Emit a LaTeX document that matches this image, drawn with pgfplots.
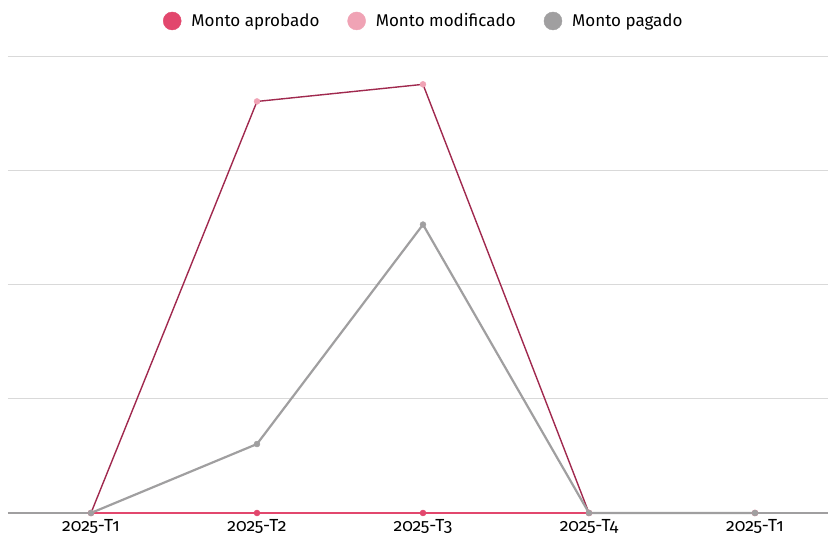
\documentclass[border=0pt]{standalone}
\usepackage{pgfplots}
\pgfplotsset{compat=1.18}
\usepackage{fontspec}
\setmainfont{Fira Sans}[Numbers=OldStyle]
\definecolor{aprob}{HTML}{E2476D}
\definecolor{modif}{HTML}{F0A3B5}
\definecolor{modline}{HTML}{A0294E}
\definecolor{pag}{HTML}{A09FA0}
\definecolor{gridc}{HTML}{D9D9D9}
\begin{document}
\begin{tikzpicture}
\path[use as bounding box] (-8pt,-24pt) rectangle (820pt,513pt);
\begin{axis}[
  at={(0,0)}, anchor=south west,
  scale only axis, width=820pt, height=456pt,
  xmin=-0.5, xmax=4.44, ymin=0, ymax=4,
  axis x line*=bottom, axis y line*=left,
  y axis line style={draw=none},
  x axis line style={draw=none},
  xtick={0,1,2,3,4},
  xticklabels={2025-T1,2025-T2,2025-T3,2025-T4,2025-T1},
  major tick length=0pt,
  xticklabel style={font=\fontsize{17.5}{19}\selectfont, yshift=-3pt},
  ytick={0,1,2,3,4}, yticklabels={},
  ymajorgrids, grid style={gridc, line width=1pt},
  clip=false,
  /pgf/number format/assume math mode=true,
  legend style={draw=none, at={(0.507,1.079)}, anchor=center,
    font=\fontsize{17}{19}\selectfont, legend columns=3,
    /tikz/every odd column/.append style={column sep=8pt},
    /tikz/every even column/.append style={column sep=26pt},
    inner sep=0pt},
  legend cell align=left,
]
\addlegendimage{legend image code/.code={\fill[aprob] (4pt,0pt) circle (9pt);}}
\addlegendentry{Monto aprobado}
\addlegendimage{legend image code/.code={\fill[modif] (4pt,0pt) circle (9pt);}}
\addlegendentry{Monto modificado}
\addlegendimage{legend image code/.code={\fill[pag] (4pt,0pt) circle (9pt);}}
\addlegendentry{Monto pagado}
\addplot[pag, line width=1.2pt, forget plot] coordinates {(-0.5,0) (4.44,0)};
\addplot[aprob, line width=2.6pt, mark=*, mark size=3pt, mark options={solid, draw=aprob, fill=aprob, line width=0.4pt}, forget plot]
  coordinates {(0,0) (1,0) (2,0) (3,0) (4,0)};
\addplot[modline, line width=1.4pt, mark=*, mark size=3pt, mark options={solid, draw=modif, fill=modif, line width=0.4pt}, forget plot]
  coordinates {(0,0) (1,3.61) (2,3.76) (3,0) (4,0)};
\addplot[pag, line width=2.2pt, mark=*, mark size=3pt, mark options={solid, draw=pag, fill=pag, line width=0.4pt}, forget plot]
  coordinates {(0,0) (1,0.605) (2,2.53) (3,0) (4,0)};
\end{axis}
\end{tikzpicture}
\end{document}
